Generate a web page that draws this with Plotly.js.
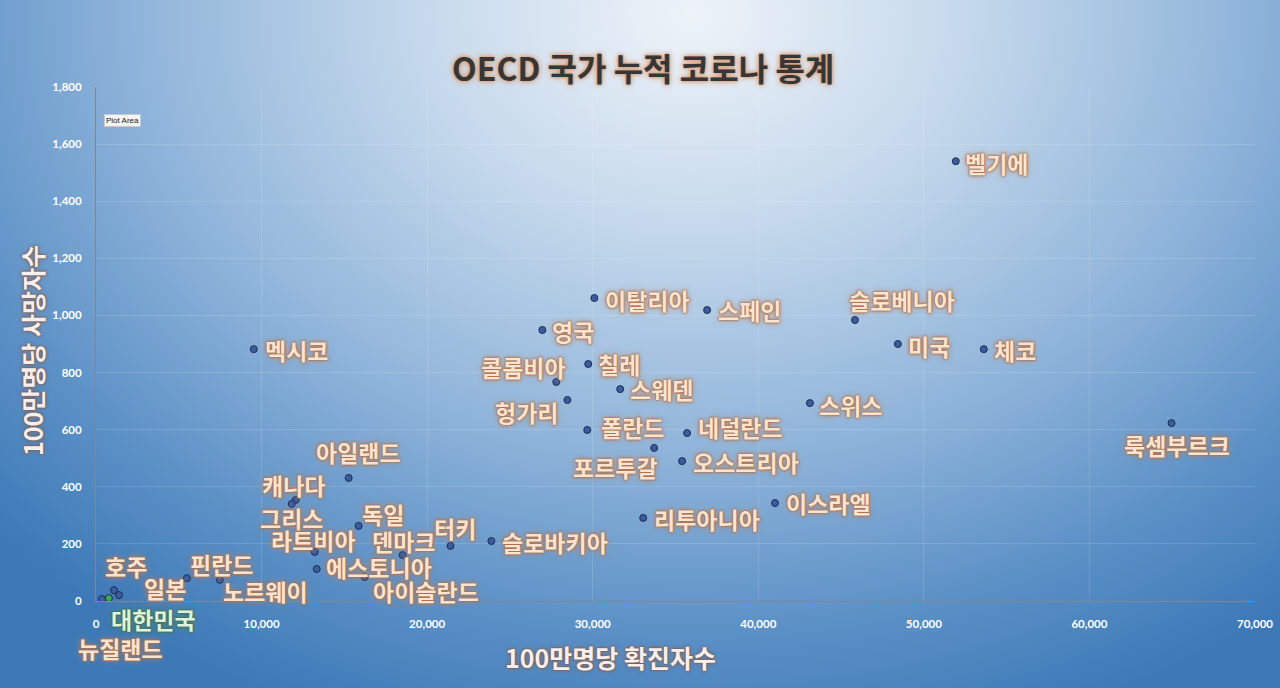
<!DOCTYPE html>
<html>
<head>
<meta charset="utf-8">
<script src="https://cdn.plot.ly/plotly-3.0.1.min.js"></script>
<style>
  html, body { margin: 0; padding: 0; }
  #app {
    width: 1280px;
    height: 688px;
    background: radial-gradient(ellipse 75% 110% at 54% 2%, #eef3f9 0%, #c6d9ec 28%, #8fb4da 58%, #5b90c6 82%, #3d79b7 100%);
  }
</style>
</head>
<body>
<div id="app"></div>
<script>
// 100만명당 확진자수 / 사망자수
const countries = [
  '벨기에', '이탈리아', '스페인', '슬로베니아', '미국', '체코', '룩셈부르크',
  '영국', '멕시코', '칠레', '콜롬비아', '스웨덴', '헝가리', '스위스',
  '폴란드', '네덜란드', '포르투갈', '오스트리아', '아일랜드', '이스라엘',
  '리투아니아', '캐나다', '그리스', '독일', '터키', '슬로바키아', '라트비아',
  '덴마크', '에스토니아', '아이슬란드', '핀란드', '노르웨이', '호주', '일본',
  '대한민국', '뉴질랜드'
];
const casesPerM = [
  51930, 30100, 36910, 45840, 48430, 53620, 64960,
  26960, 9530, 29730, 27800, 31660, 28470, 43120,
  29670, 35700, 33710, 35400, 15260, 41010,
  33050, 12060, 11820, 15860, 21410, 23880, 13210,
  18520, 13330, 16220, 5490, 7480, 1090, 1390,
  780, 360
];
const deathsPerM = [
  1540, 1061, 1019, 984, 900, 882, 623,
  949, 882, 830, 767, 742, 704, 693,
  599, 588, 536, 490, 431, 343,
  291, 354, 340, 263, 193, 210, 172,
  161, 112, 84, 80, 74, 38, 21,
  10, 7
];
const highlight = '대한민국';

// label offset from its point, in screen pixels [dx, dy]
const labelOffsets = [
  [41, 2], [53, 2], [42, 0], [47, -20], [31, 2], [31, 1], [5, 22],
  [31, 1], [43, 1], [31, 0], [-33, -15], [41, 0], [-41, 12], [41, 2],
  [45, -3], [53, -6], [-39, 19], [64, 1], [10, -26], [53, 0],
  [64, 1], [-2, -15], [0, 14], [24, -12], [5, -18], [64, 1], [-1, -12],
  [1, -14], [62, -2], [61, 14], [35, -14], [46, 11], [12, -24], [46, -7],
  [45, 21], [19, 49]
];

const KR = '"Noto Sans CJK KR", "Noto Sans", sans-serif';
const orangeGlow = '0 0 1px #a86f4c, 0 0 2px #a86f4c, 0 0 3px #a86f4c, 0 0 6px #c08866';
const greenGlow = '0 0 1px #3f6e4c, 0 0 2px #3f6e4c, 0 0 3px #3f6e4c, 0 0 6px #5a8a66';

const isKorea = countries.map(c => c === highlight);

const trace = {
  x: casesPerM,
  y: deathsPerM,
  text: countries,
  mode: 'markers',
  type: 'scatter',
  hoverinfo: 'text',
  marker: {
    size: 7,
    color: isKorea.map(k => k ? '#3fae4a' : '#3b5c9e'),
    line: { color: '#1d2d52', width: 1 },
  },
  showlegend: false,
};

const labels = countries.map((c, i) => ({
  x: casesPerM[i],
  y: deathsPerM[i],
  xref: 'x',
  yref: 'y',
  text: c,
  showarrow: false,
  xanchor: 'center',
  yanchor: 'middle',
  xshift: labelOffsets[i][0],
  yshift: -labelOffsets[i][1],
  font: {
    family: KR,
    size: 23,
    weight: 'bold',
    color: isKorea[i] ? '#dff3dc' : '#fde4d1',
    shadow: isKorea[i] ? greenGlow : orangeGlow,
  },
}));

const axisTitleFont = {
  family: KR, size: 25, weight: 'bold', color: '#f7efed',
  shadow: '0 0 1px #7a5546, 0 0 2px #7a5546, 0 0 4px #8c6453',
};

// axis titles as annotations so they sit where the reference has them
labels.push({
  xref: 'paper', yref: 'paper',
  x: (610 - 96) / 1159, y: -0.108,
  xanchor: 'center', yanchor: 'middle',
  text: '100만명당 확진자수',
  showarrow: false,
  font: axisTitleFont,
});
labels.push({
  xref: 'paper', yref: 'paper',
  x: (32 - 96) / 1159, y: (601 - 351) / 514,
  xanchor: 'center', yanchor: 'middle',
  textangle: -90,
  text: '100만명당 사망자수',
  showarrow: false,
  font: axisTitleFont,
});

labels.push({
  xref: 'paper', yref: 'paper',
  x: 0.007, y: 0.948,
  xanchor: 'left', yanchor: 'top',
  text: 'Plot Area',
  showarrow: false,
  bgcolor: '#f5f5f5',
  bordercolor: '#c8c8c8',
  borderwidth: 1,
  borderpad: 1,
  font: { family: 'Liberation Sans, Arial, sans-serif', size: 8, color: '#222' },
});

const tickFont = { family: 'Lato, "Open Sans", sans-serif', size: 11.5, weight: 'bold', color: '#ffffff' };

const layout = {
  width: 1280,
  height: 688,
  paper_bgcolor: 'rgba(0,0,0,0)',
  plot_bgcolor: 'rgba(0,0,0,0)',
  margin: { l: 96, r: 25, t: 87, b: 87 },
  title: {
    text: 'OECD 국가 누적 코로나 통계',
    x: 0.5025,
    xanchor: 'center',
    y: 0.898,
    yanchor: 'middle',
    font: {
      family: KR, size: 32, weight: 'bold', color: '#363636',
      shadow: '0 0 2px #d59b78, 0 0 4px #d59b78, 0 0 7px #e0b090',
    },
  },
  xaxis: {
    range: [0, 70000],
    dtick: 10000,
    tickformat: ',',
    showgrid: true,
    gridcolor: 'rgba(255,255,255,0.13)',
    zeroline: false,
    showline: true,
    linecolor: '#7d8797',
    linewidth: 1,
    ticks: '',
    ticklabelstandoff: 12,
    tickfont: tickFont,
  },
  yaxis: {
    range: [0, 1800],
    dtick: 200,
    tickformat: ',',
    showgrid: true,
    gridcolor: 'rgba(255,255,255,0.13)',
    zeroline: false,
    showline: true,
    linecolor: '#7d8797',
    linewidth: 1,
    ticks: '',
    ticklabelstandoff: 11,
    tickfont: tickFont,
  },
  annotations: labels,
};

Plotly.newPlot('app', [trace], layout, { displayModeBar: false, staticPlot: true });
</script>
</body>
</html>
